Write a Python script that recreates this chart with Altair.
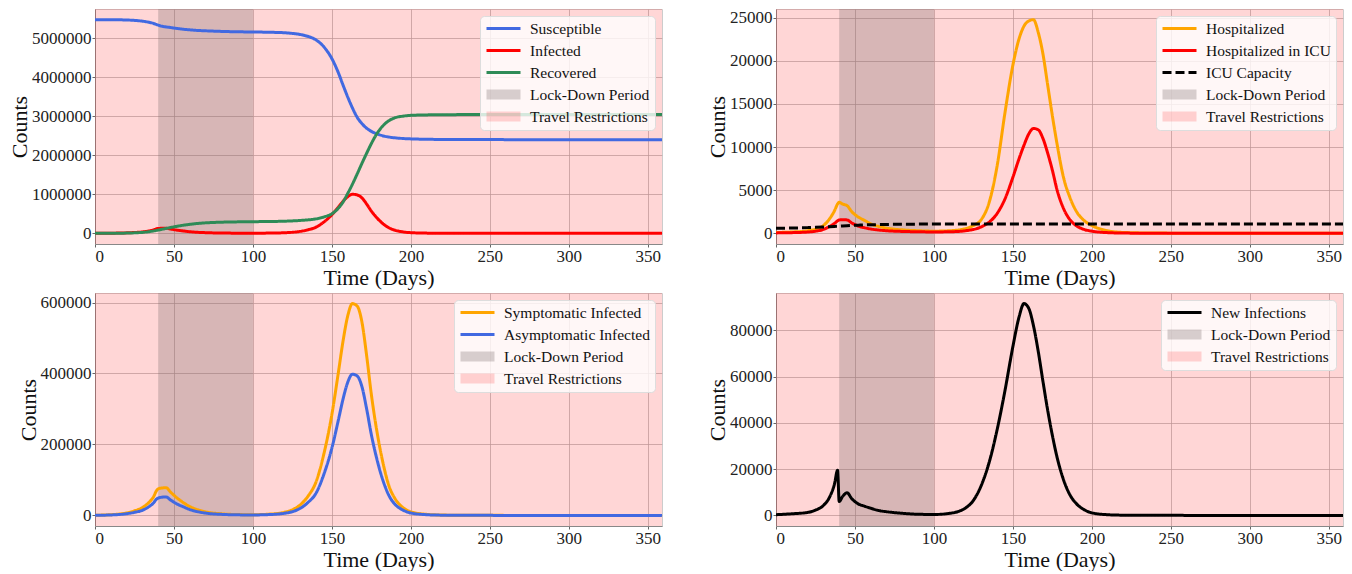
import altair as alt
import pandas as pd

# ---------------- data ----------------
T = [0, 10, 20, 25, 30, 34, 37, 39, 40, 42, 45, 48, 52, 56, 60, 65, 70, 80, 90, 100,
     110, 120, 125, 130, 135, 140, 145, 150, 154, 157, 160, 163, 166, 169, 172, 175,
     178, 182, 186, 190, 195, 200, 210, 220, 240, 300, 359]

SUSCEPTIBLE = [5470000, 5469000, 5462000, 5452000, 5432000, 5405000, 5375000, 5345000,
               5332000, 5305000, 5285000, 5268000, 5245000, 5225000, 5210000, 5195000,
               5185000, 5170000, 5160000, 5155000, 5148000, 5135000, 5118000, 5090000,
               5040000, 4950000, 4770000, 4470000, 4120000, 3800000, 3490000, 3210000,
               2970000, 2810000, 2690000, 2610000, 2555000, 2500000, 2465000, 2445000,
               2428000, 2418000, 2408000, 2403000, 2400000, 2398000, 2398000]
INFECTED = [800, 3300, 11700, 21700, 36500, 60000, 87000, 116000, 124000, 128000, 130000,
            108000, 81000, 60000, 41500, 26500, 16500, 7500, 4100, 3300, 5800, 15000, 26500,
            50000, 92000, 158000, 292000, 475000, 667000, 817000, 937000, 1000000, 983000,
            908000, 750000, 567000, 417000, 258000, 142000, 78000, 37000, 16700, 5000, 1700,
            350, 0, 0]
RECOVERED = [0, 1500, 6000, 12000, 24000, 42000, 60000, 75000, 83000, 100000, 125000,
             150000, 180000, 208000, 230000, 252000, 268000, 285000, 293000, 298000, 302000,
             310000, 318000, 330000, 345000, 370000, 420000, 500000, 640000, 800000, 1020000,
             1260000, 1520000, 1790000, 2050000, 2300000, 2520000, 2740000, 2880000, 2960000,
             3000000, 3020000, 3032000, 3037000, 3040000, 3040000, 3040000]
HOSPITALIZED = [100, 150, 300, 480, 900, 1700, 2600, 3400, 3600, 3400, 3200, 2500, 1900,
                1500, 1100, 800, 600, 400, 300, 250, 300, 550, 900, 1600, 3600, 7800, 14000,
                19500, 22600, 24000, 24600, 24750, 23300, 20800, 17200, 13600, 10300, 6500,
                4200, 2600, 1500, 900, 300, 100, 30, 0, 0]
ICU = [50, 80, 150, 250, 450, 800, 1150, 1450, 1550, 1580, 1550, 1200, 850, 650, 500, 380,
       300, 220, 180, 160, 180, 300, 450, 750, 1300, 2300, 4000, 6500, 8700, 10200, 11500,
       12150, 12000, 11000, 9300, 7300, 5000, 2900, 1600, 900, 450, 250, 80, 30, 10, 0, 0]
ICU_CAPACITY = [580, 610, 660, 690, 730, 770, 800, 820, 830, 850, 880, 910, 940, 970, 990,
                1010, 1030, 1050, 1065, 1075, 1080, 1080, 1080, 1080, 1080, 1080, 1080, 1080,
                1080, 1080, 1080, 1080, 1080, 1080, 1080, 1080, 1080, 1080, 1080, 1080, 1080,
                1080, 1080, 1080, 1080, 1080, 1080]
SYMPTOMATIC = [500, 2000, 7000, 13000, 22000, 36000, 52000, 70000, 75000, 77000, 78000, 65000,
               49000, 36000, 25000, 16000, 10000, 4500, 2500, 2000, 3500, 9000, 16000, 30000,
               55000, 95000, 175000, 285000, 400000, 490000, 562000, 597000, 590000, 545000,
               450000, 340000, 250000, 155000, 85000, 47000, 22000, 10000, 3000, 1000, 200, 0, 0]
ASYMPTOMATIC = [300, 1300, 4700, 8700, 14500, 24000, 35000, 46000, 49000, 51000, 52000, 43000,
                32000, 24000, 16500, 10500, 6500, 3000, 1600, 1300, 2300, 6000, 10500, 20000,
                37000, 63000, 117000, 190000, 267000, 327000, 375000, 398000, 393000, 363000,
                300000, 227000, 167000, 103000, 57000, 31000, 15000, 6700, 2000, 700, 150, 0, 0]
NEW_INFECTIONS = [300, 700, 1300, 2300, 4300, 8000, 13500, 19500, 6000, 8000, 9800, 7200, 5000,
                  4000, 3100, 2100, 1600, 900, 500, 400, 900, 3200, 6500, 13000, 23000, 37000,
                  54000, 73000, 86000, 91500, 89500, 82000, 71000, 58000, 45500, 34500, 25000,
                  15500, 9000, 5200, 2500, 1100, 300, 100, 30, 0, 0]

PERIOD_NAMES = ["Lock-Down Period", "Travel Restrictions"]
PERIOD_START = [40, 0]
PERIOD_END = [100, 359]

X_TICKS = [0, 50, 100, 150, 200, 250, 300, 350]

# ---------------- styling ----------------
FONT = "Liberation Serif"
LOCK_FILL = "rgba(122,110,110,0.3)"
TRAVEL_FILL = "rgba(255,0,0,0.16)"
LINE_PATH = "M-1,0H1"
PATCH_PATH = "M-1,-0.3H1V0.3H-1Z"
SOLID = [1, 0]
DASHED = [9, 4]

series = {
    "Susceptible": SUSCEPTIBLE, "Infected": INFECTED, "Recovered": RECOVERED,
    "Hospitalized": HOSPITALIZED, "Hospitalized in ICU": ICU, "ICU Capacity": ICU_CAPACITY,
    "Symptomatic Infected": SYMPTOMATIC, "Asymptomatic Infected": ASYMPTOMATIC,
    "New Infections": NEW_INFECTIONS,
}
rows = []
for name, vals in series.items():
    for t, v in zip(T, vals):
        rows.append({"series": name, "t": t, "v": v})
data = pd.DataFrame(rows)
spans = pd.DataFrame({"period": PERIOD_NAMES, "start": PERIOD_START, "end": PERIOD_END})

x_scale = alt.Scale(domain=[0, 359], nice=False, zero=False)
x_axis = alt.Axis(values=X_TICKS, title="Time (Days)")

LEG = alt.Legend(
    orient="top-right", offset=7, padding=5, fillColor="rgba(255,255,255,0.8)",
    strokeColor="#dddddd", cornerRadius=4, labelFont=FONT, labelFontSize=15.5,
    labelColor="#111111", labelOffset=8, symbolSize=1156, symbolStrokeWidth=3,
    symbolFillColor="transparent", symbolStrokeColor="transparent", symbolOpacity=1,
    clipHeight=15, rowPadding=6, labelLimit=400,
)


def panel(entries, ydom, yticks, height):
    y = alt.Y("v:Q", scale=alt.Scale(domain=ydom, nice=False, zero=False),
              axis=alt.Axis(values=yticks, format="d", title="Counts"))
    layers = []
    for period, fill in [("Travel Restrictions", TRAVEL_FILL), ("Lock-Down Period", LOCK_FILL)]:
        layers.append(
            alt.Chart(spans).mark_rect(fill=fill, clip=True)
            .encode(x=alt.X("start:Q", scale=x_scale, axis=x_axis), x2="end:Q")
            .transform_filter(alt.datum.period == period)
        )
    for name, color, dash in entries:
        layers.append(
            alt.Chart(data).mark_line(stroke=color, strokeWidth=3, strokeDash=dash,
                                      interpolate="monotone", clip=True)
            .encode(x=alt.X("t:Q", scale=x_scale, axis=x_axis), y=y)
            .transform_filter(alt.datum.series == name)
        )
    names = [e[0] for e in entries] + PERIOD_NAMES
    strokes = [e[1] for e in entries] + ["transparent", "transparent"]
    fills = ["transparent"] * len(entries) + [LOCK_FILL, TRAVEL_FILL]
    shapes = [LINE_PATH] * len(entries) + [PATCH_PATH, PATCH_PATH]
    dashes = [e[2] for e in entries] + [SOLID, SOLID]
    legend_df = pd.DataFrame({"entry": names})
    layers.append(
        alt.Chart(legend_df).mark_point(opacity=1, filled=False)
        .encode(
            stroke=alt.Stroke("entry:N", scale=alt.Scale(domain=names, range=strokes), legend=LEG, title=None),
            fill=alt.Fill("entry:N", scale=alt.Scale(domain=names, range=fills), legend=LEG, title=None),
            shape=alt.Shape("entry:N", scale=alt.Scale(domain=names, range=shapes), legend=LEG, title=None),
            strokeDash=alt.StrokeDash("entry:N", scale=alt.Scale(domain=names, range=dashes), legend=LEG, title=None),
        )
        .transform_filter("false")
    )
    return alt.layer(*layers).properties(width=567, height=height)


p1 = panel([("Susceptible", "#4169e1", SOLID), ("Infected", "#ff0000", SOLID),
            ("Recovered", "#2e8b57", SOLID)],
           [-273500, 5743500], [0, 1000000, 2000000, 3000000, 4000000, 5000000], 235)
p2 = panel([("Hospitalized", "#ffa500", SOLID), ("Hospitalized in ICU", "#ff0000", SOLID),
            ("ICU Capacity", "#000000", DASHED)],
           [-1237, 25987], [0, 5000, 10000, 15000, 20000, 25000], 235)
p3 = panel([("Symptomatic Infected", "#ffa500", SOLID), ("Asymptomatic Infected", "#4169e1", SOLID)],
           [-29850, 626850], [0, 200000, 400000, 600000], 233)
p4 = panel([("New Infections", "#000000", SOLID)],
           [-4575, 96075], [0, 20000, 40000, 60000, 80000], 233)

chart = (
    alt.concat(p1, p2, p3, p4, columns=2, spacing={"row": 49, "column": 114}, bounds="flush")
    .resolve_scale(stroke="independent", fill="independent", shape="independent",
                   strokeDash="independent")
    .resolve_legend(stroke="independent", fill="independent", shape="independent",
                    strokeDash="independent")
    .properties(padding={"left": 0, "top": 0, "right": 0, "bottom": 0})
    .configure_view(stroke="#cccccc", strokeWidth=1)
    .configure_axis(
        labelFont=FONT, titleFont=FONT, labelFontSize=17, titleFontSize=22,
        titleFontWeight="normal", labelColor="#222222", titleColor="#111111",
        gridColor="#b0b0b0", gridOpacity=0.7, gridWidth=1, domainColor="#888888",
        tickColor="#666666", tickSize=3,
    )
    .configure_axisX(labelPadding=1, titlePadding=3)
    .configure_axisY(labelPadding=1, titlePadding=0)
)

chart.save("out.html", embed_options={"renderer": "svg", "actions": False})
